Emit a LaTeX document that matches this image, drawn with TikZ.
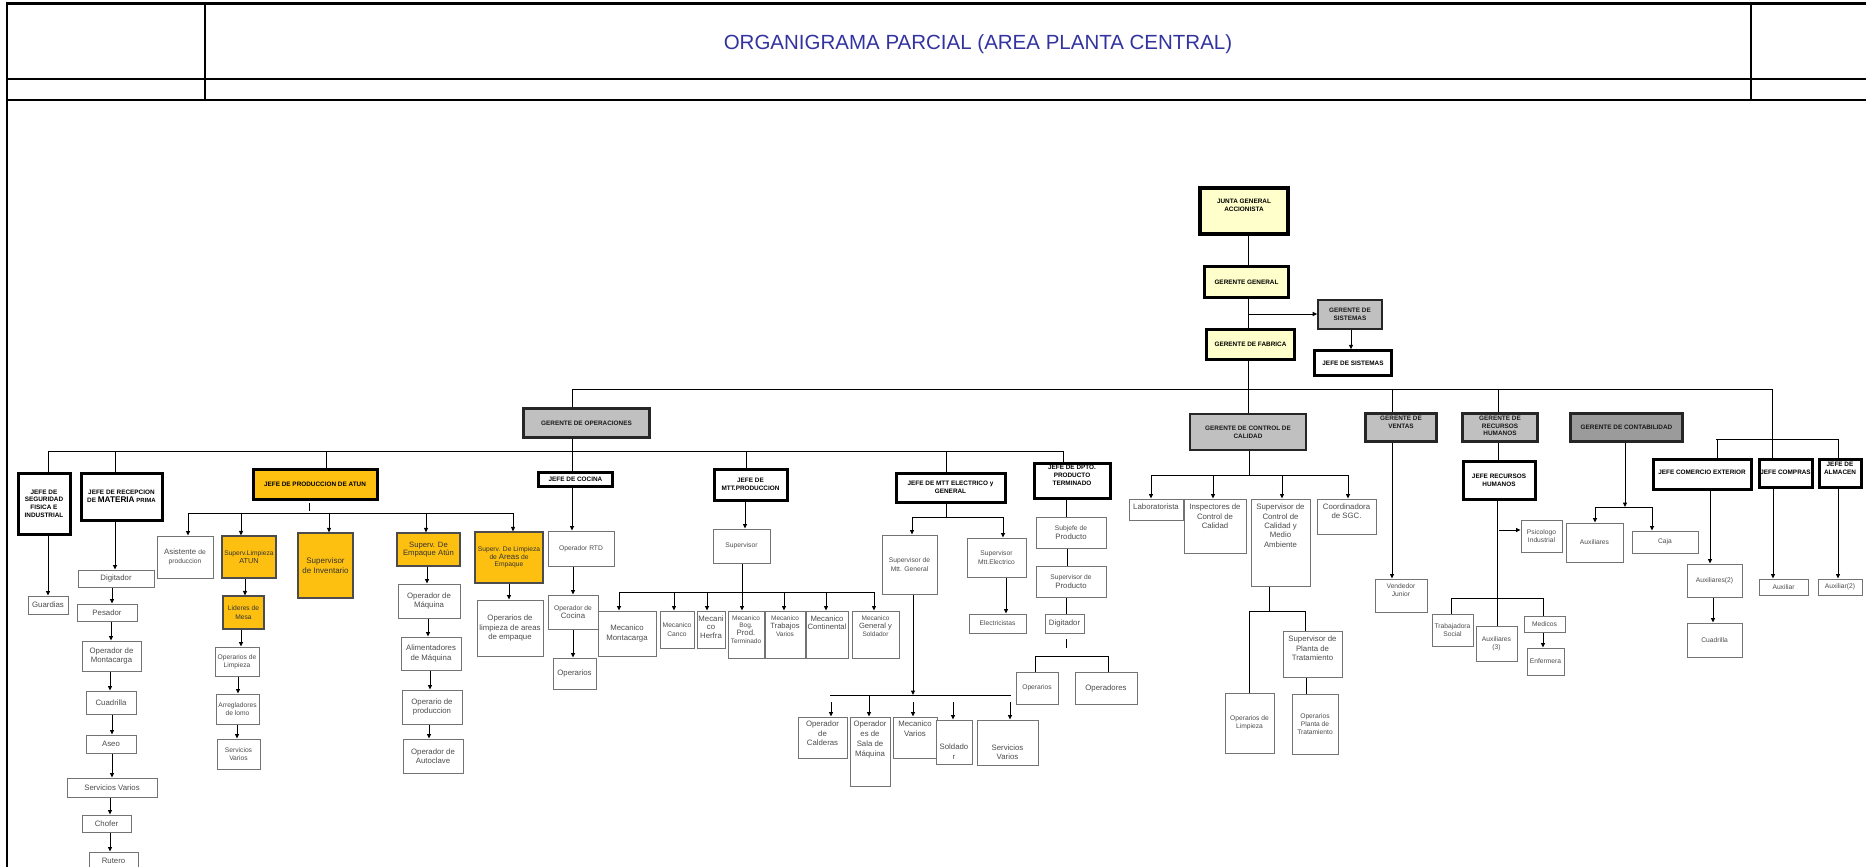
\documentclass[tikz,border=0pt]{standalone}
\usepackage{fontspec}
\setmainfont{Liberation Sans}
\usetikzlibrary{arrows.meta}
\definecolor{yelfill}{RGB}{255,255,204}
\definecolor{grayfill}{RGB}{192,192,192}
\definecolor{dgrayfill}{RGB}{155,155,155}
\definecolor{orfill}{RGB}{254,192,16}
\definecolor{titleblue}{RGB}{51,51,160}
\newcommand{\ftB}{\fontsize{6.4}{7.7}\selectfont\bfseries}
\newcommand{\ftL}{\fontsize{7.8}{9.4}\selectfont}
\newcommand{\ftS}{\fontsize{6.7}{8.2}\selectfont}
\newcommand{\tbox}[4]{\parbox[c][#2pt][t]{#1pt}{\centering\vspace*{\dimexpr#3pt+2pt\relax}#4\par}}
\newcommand{\vlink}[4]{\draw[#1] (#2,0 |- #3) -- (#2,0 |- #4);}
\begin{document}
\begin{tikzpicture}[x=1pt,y=-1pt,
 base/.style={rectangle, inner sep=0pt, align=center},
 thin/.style={base, draw=black!55, line width=1pt, fill=white, font=\ftL, text=black!70},
 thinS/.style={thin, font=\ftS},
 thick/.style={base, draw=black, line width=3pt, fill=white, font=\ftB, text=black},
 yel/.style={thick, fill=yelfill},
 grayb/.style={base, draw=black!85, line width=2.2pt, fill=grayfill, font=\ftB, text=black!90},
 orng/.style={base, draw=black!70, line width=1.2pt, fill=orfill, font=\ftL, text=black!80},
 wh/.style 2 args={minimum width=#1pt, minimum height=#2pt},
 ln/.style={line width=1pt},
 arr/.style={line width=1pt, -{Triangle[length=4.5pt,width=4pt]}},
 frame/.style={line width=2.5pt},
 framethin/.style={line width=1.5pt}]
\useasboundingbox (0,0) rectangle (1866,867);
% frame
\draw[frame] (7,3.5) -- (1866,3.5);
\draw[frame] (7,2.3) -- (7,870);
\draw[frame] (7,79) -- (1866,79);
\draw[frame] (7,100) -- (1866,100);
\draw[framethin] (205,3.5) -- (205,100);
\draw[framethin] (1751,3.5) -- (1751,100);
\node[font=\fontsize{20.5}{24}\selectfont, text=titleblue] (title) at (978,44) {ORGANIGRAMA PARCIAL (AREA PLANTA CENTRAL)};
% top
\node[yel, line width=4pt] (junta) at (1244,211) {\tbox{88}{46}{9.5}{JUNTA GENERAL\\ACCIONISTA}};
\node[yel, wh={83.5}{30.5}] (gg) at (1246.5,282) {GERENTE GENERAL};
\node[grayb, wh={63.4}{28.4}] (gs) at (1350,314.5) {GERENTE DE\\SISTEMAS};
\node[thick, wh={76.5}{24.5}] (js) at (1353,363) {JEFE DE SISTEMAS};
\node[yel, wh={87.5}{29.5}] (gf) at (1250.5,344.5) {GERENTE DE FABRICA};
% second level
\node[grayb, wh={126}{29}] (gop) at (586.5,423) {GERENTE DE OPERACIONES};
\node[grayb, wh={116.5}{36.5}] (gcc) at (1248,432) {GERENTE DE CONTROL DE\\CALIDAD};
\node[grayb] (gv) at (1401,427.5) {\tbox{71}{28}{1}{GERENTE DE\\VENTAS}};
\node[grayb] (grh) at (1500,427.5) {\tbox{75}{28}{0.5}{GERENTE DE\\RECURSOS\\HUMANOS}};
\node[grayb, fill=dgrayfill, wh={112}{28}] (gcont) at (1626.5,427.5) {GERENTE DE CONTABILIDAD};
% operaciones heads
\node[thick, wh={52}{61}] (jseg) at (44,503.5) {JEFE DE\\SEGURIDAD\\FISICA E\\INDUSTRIAL};
\node[thick, wh={81}{47}] (jrec) at (121.5,496.5) {JEFE DE RECEPCION\\DE {\fontsize{8.2}{9}\selectfont MATERIA} {\fontsize{6}{7}\selectfont PRIMA}};
\node[thick, fill=orfill, wh={124}{30}] (jatun) at (315,484) {JEFE DE PRODUCCION DE ATUN};
\node[thick, wh={73.5}{13.5}] (jcoc) at (575.5,479.5) {JEFE DE COCINA};
\node[thick, wh={73}{31}] (jmtt) at (750.5,484.5) {JEFE DE\\MTT.PRODUCCION};
\node[thick, wh={109}{29}] (jele) at (950.5,487.5) {JEFE DE MTT ELECTRICO y\\GENERAL};
\node[thick] (jdpto) at (1072,480.5) {\tbox{76}{35}{0.5}{JEFE DE DPTO.\\PRODUCTO\\TERMINADO}};
% seguridad / recepcion
\node[thin, wh={40}{18}] (guard) at (48,605) {Guardias};
\node[thin, wh={76}{17}] (dig1) at (116,578.5) {Digitador};
\node[thin, wh={60}{17}] (pes) at (107,612.5) {Pesador};
\node[thin, wh={59}{30}] (opmon) at (111.5,656) {Operador de\\Montacarga};
\node[thin, wh={50}{23}] (cuad1) at (111,702.5) {Cuadrilla};
\node[thin, wh={50}{18}] (aseo) at (111,744) {Aseo};
\node[thin, wh={90}{19}] (serv1) at (112,787.5) {Servicios Varios};
\node[thin, wh={49}{17}] (chof) at (106.5,823.5) {Chofer};
\node[thin, wh={49}{18}] (rut) at (113.5,861) {Rutero};
% atun
\node[thin, wh={56}{42}] (asis) at (185,557) {Asistente {\ftS de}\\{\ftS produccion}};
\node[orng, wh={54}{42}, font=\fontsize{7.3}{8}\selectfont] (svla) at (249,557) {{\ftS Superv.Limpieza}\\ATUN};
\node[orng, wh={41}{33}, font=\ftS] (lider) at (243.5,612.5) {Lideres de\\Mesa};
\node[thinS, wh={44}{29}] (oplim) at (237,661.5) {Operarios de\\Limpieza};
\node[thinS, wh={43}{30}] (arreg) at (237.5,709) {Arregladores\\de lomo};
\node[thinS, wh={43}{30}] (serv2) at (238.5,754) {Servicios\\Varios};
\node[orng, wh={55}{65}, font=\fontsize{8}{10}\selectfont] (sinv) at (325.5,565.5) {Supervisor\\de Inventario};
\node[orng, wh={63}{33}, font=\fontsize{7.7}{8.5}\selectfont] (sempq) at (428.5,549.5) {Superv. De\\Empaque Atún};
\node[thin, wh={62}{34}] (opmaq) at (429,601) {Operador de\\Máquina};
\node[thin, wh={60}{33}] (alim) at (431,653.5) {Alimentadores\\de Máquina};
\node[thin, wh={60}{34}] (oprod) at (432,707) {Operario de\\produccion};
\node[thin, wh={60}{34}] (opaut) at (433,756) {Operador de\\Autoclave};
\node[orng, wh={68}{51}, font=\fontsize{6.7}{7.6}\selectfont] (slae) at (509,557.5) {Superv. De Limpieza\\de {\fontsize{7.8}{7.6}\selectfont Areas} de\\Empaque};
\node[thin, wh={66}{56}] (oplae) at (510,628) {Operarios de\\limpieza de areas\\de empaque};
% cocina
\node[thinS, wh={66}{35}] (oprtd) at (581,548.5) {Operador RTD};
\node[thin, wh={50}{34}, font=\fontsize{7.8}{8.5}\selectfont] (opcoc) at (573,612) {{\ftS Operador de}\\Cocina};
\node[thin, wh={43}{31}] (operar1) at (574.5,673.5) {Operarios};
% mtt produccion
\node[thinS, wh={57}{34}] (sup1) at (741.5,546) {Supervisor};
\node[thin, wh={58}{45}] (mmon) at (627,633.5) {Mecanico\\Montacarga};
\node[thinS, wh={34}{37}] (mcan) at (677,629.5) {Mecanico\\Canco};
\node[thin, font=\fontsize{7.8}{8.5}\selectfont] (mher) at (711,629.5) {\tbox{28}{37}{2.5}{Mecani\\co\\Herfra}};
\node[thin, font=\fontsize{6.5}{7}\selectfont] (mbog) at (746,634.5) {\tbox{36}{47}{2.5}{Mecanico\\Bog.\\{\fontsize{7.8}{7}\selectfont Prod.}\\[1.5pt]Terminado}};
\node[thin, font=\fontsize{6.5}{8}\selectfont] (mtrab) at (785,634.5) {\tbox{40}{47}{3}{Mecanico\\{\fontsize{7.6}{8}\selectfont Trabajos}\\Varios}};
\node[thin, font=\fontsize{7.7}{8.3}\selectfont] (mcont) at (827,634.5) {\tbox{42}{47}{3}{Mecanico\\Continental}};
\node[thin, font=\fontsize{6.5}{8}\selectfont] (mgen) at (875.5,634.5) {\tbox{47}{47}{3}{Mecanico\\{\fontsize{7.6}{8}\selectfont General y}\\Soldador}};
% mtt electrico
\node[thinS, wh={55}{59}] (smg) at (909.5,564.5) {Supervisor de\\Mtt. General};
\node[thinS, wh={59}{39}] (sme) at (996.5,557.5) {Supervisor\\Mtt.Electrico};
\node[thinS, wh={57}{19}] (elec) at (997.5,623.5) {Electricistas};
\node[thin, font=\fontsize{7.8}{9.5}\selectfont] (ocal) at (822.5,737.5) {\tbox{49}{41}{2.2}{Operador\\de\\Calderas}};
\node[thin, font=\fontsize{7.8}{10}\selectfont] (osal) at (870,751.5) {\tbox{40}{69}{2.2}{Operador\\es de\\Sala de\\Máquina}};
\node[thin] (mvar) at (915,737.5) {\tbox{44}{41}{2.2}{Mecanico\\Varios}};
\node[thin] (sold) at (954,742) {\tbox{36}{44}{22}{Soldado\\r}};
\node[thin] (sv3) at (1007.5,742.5) {\tbox{61}{45}{22.5}{Servicios\\Varios}};
% producto terminado
\node[thin, wh={70}{31}, font=\fontsize{7.8}{9}\selectfont] (subj) at (1071,532.5) {{\ftS Subjefe de}\\Producto};
\node[thin, wh={70}{31}, font=\fontsize{7.8}{9}\selectfont] (supp) at (1071,581.5) {{\ftS Supervisor de}\\Producto};
\node[thin, wh={39}{19}] (dig2) at (1064.5,623.5) {Digitador};
\node[thinS, wh={42}{32}] (oper2) at (1037,688) {Operarios};
\node[thin, wh={62}{32}] (opdr) at (1106,688) {Operadores};
% calidad
\node[thin] (lab) at (1156,509.5) {\tbox{54}{21}{3}{Laboratorista}};
\node[thin] (insp) at (1215,526) {\tbox{62}{54}{3}{Inspectores de\\Control de\\Calidad}};
\node[thin] (scc) at (1280.5,542.5) {\tbox{59}{87}{3}{Supervisor de\\Control de\\Calidad y\\Medio\\Ambiente}};
\node[thin] (coord) at (1346.5,516.5) {\tbox{59}{35}{2.5}{Coordinadora\\de SGC.}};
\node[thin] (spt) at (1312.5,654) {\tbox{59}{46}{3}{Supervisor de\\Planta de\\Tratamiento}};
\node[thinS, wh={49}{60}] (olimp) at (1249.5,723) {Operarios de\\Limpieza};
\node[thinS, wh={46}{60}] (opt) at (1315,724) {Operarios\\Planta de\\Tratamiento};
% ventas
\node[thinS] (vj) at (1401,595.5) {\tbox{52}{33}{2.5}{Vendedor\\Junior}};
% rrhh
\node[thick, wh={72}{38}] (jrh) at (1499,480) {JEFE RECURSOS\\HUMANOS};
\node[thinS, wh={41}{32}] (psic) at (1541.5,536) {Psicologo\\Industrial};
\node[thinS, wh={41}{32}] (trab) at (1452.5,630) {Trabajadora\\Social};
\node[thinS, wh={41}{35}] (aux3) at (1496.5,643.5) {Auxiliares\\(3)};
\node[thinS, wh={41}{16}] (med) at (1544.5,624) {Medicos};
\node[thinS, wh={37}{27}] (enf) at (1545.5,661.5) {Enfermera};
% contabilidad
\node[thinS, wh={57}{39}] (auxc) at (1594.5,542.5) {Auxiliares};
\node[thinS, wh={66}{22}] (caja) at (1665,542) {Caja};
% right group
\node[thick] (jce) at (1702,474) {\tbox{98}{30}{9}{JEFE COMERCIO EXTERIOR}};
\node[thick] (jcomp) at (1785.5,473) {\tbox{53}{28}{9}{JEFE COMPRAS}};
\node[thick] (jalm) at (1840,473) {\tbox{42}{28}{1}{JEFE DE\\ALMACEN}};
\node[thinS, wh={55}{33}] (aux2) at (1714.5,580.5) {Auxiliares(2)};
\node[thinS, wh={55}{34}] (cuad2) at (1714.5,640) {Cuadrilla};
\node[thinS, wh={49}{16}] (auxl) at (1783.5,587) {Auxiliar};
\node[thinS, wh={44}{16}] (auxl2) at (1840,587) {Auxiliar(2)};

% ---------- connectors ----------
\coordinate (mainL) at (572,389); \coordinate (mainR) at (1772,389);
\draw[ln] (mainL) -- (mainR);
\vlink{ln}{1248}{junta.south}{gg.north}
\vlink{ln}{1248}{gg.south}{gf.north}
\vlink{ln}{1248}{gf.south}{mainL}
\coordinate (gsb) at (1248,314);
\draw[arr] (gsb) -- (gsb -| gs.west);
\vlink{arr}{1351}{gs.south}{js.north}
\vlink{ln}{572}{mainL}{gop.north}
\vlink{ln}{1248}{mainL}{gcc.north}
\vlink{ln}{1392}{mainL}{gv.north}
\vlink{ln}{1498}{mainL}{grh.north}
\coordinate (rL) at (1716,439); \coordinate (rR) at (1838,439);
\vlink{ln}{1772}{mainR}{rL}
\draw[ln] (rL) -- (rR);
\vlink{ln}{1717}{rL}{jce.north}
\vlink{ln}{1772}{rL}{jcomp.north}
\vlink{ln}{1838}{rL}{jalm.north}
\vlink{arr}{1710}{jce.south}{aux2.north}
\vlink{arr}{1713}{aux2.south}{cuad2.north}
\vlink{arr}{1773}{jcomp.south}{auxl.north}
\vlink{arr}{1838}{jalm.south}{auxl2.north}
% operaciones bus
\coordinate (oL) at (48,451); \coordinate (oR) at (1063,451);
\draw[ln] (oL) -- (oR);
\vlink{ln}{572}{gop.south}{jcoc.north}
\vlink{ln}{48}{oL}{jseg.north}
\vlink{ln}{115}{oL}{jrec.north}
\vlink{ln}{326}{oL}{jatun.north}
\vlink{ln}{746}{oL}{jmtt.north}
\vlink{ln}{946}{oL}{jele.north}
\vlink{ln}{1063}{oL}{jdpto.north}
% seguridad / recepcion
\vlink{arr}{48}{jseg.south}{guard.north}
\vlink{arr}{115}{jrec.south}{dig1.north}
\vlink{arr}{112}{dig1.south}{pes.north}
\vlink{arr}{111}{pes.south}{opmon.north}
\vlink{arr}{110}{opmon.south}{cuad1.north}
\vlink{arr}{112}{cuad1.south}{aseo.north}
\vlink{arr}{112}{aseo.south}{serv1.north}
\vlink{arr}{110}{serv1.south}{chof.north}
\vlink{arr}{110}{chof.south}{rut.north}
% atun
\draw[ln] (309,503) -- (309,511);
\coordinate (aL) at (188,513); \coordinate (aR) at (513,513);
\draw[ln] (aL) -- (aR);
\vlink{arr}{188}{aL}{asis.north}
\vlink{arr}{241}{aL}{svla.north}
\vlink{arr}{329}{aL}{sinv.north}
\vlink{arr}{426}{aL}{sempq.north}
\vlink{arr}{513}{aL}{slae.north}
\vlink{arr}{245}{svla.south}{lider.north}
\vlink{arr}{241}{lider.south}{oplim.north}
\vlink{arr}{238}{oplim.south}{arreg.north}
\vlink{arr}{237}{arreg.south}{serv2.north}
\vlink{arr}{427}{sempq.south}{opmaq.north}
\vlink{arr}{428}{opmaq.south}{alim.north}
\vlink{arr}{430}{alim.south}{oprod.north}
\vlink{arr}{429}{oprod.south}{opaut.north}
\vlink{arr}{509}{slae.south}{oplae.north}
% cocina
\vlink{arr}{572}{jcoc.south}{oprtd.north}
\vlink{arr}{573}{oprtd.south}{opcoc.north}
\vlink{arr}{573}{opcoc.south}{operar1.north}
% mtt produccion
\vlink{arr}{745}{jmtt.south}{sup1.north}
\coordinate (mL) at (619,592); \coordinate (mR) at (874,592);
\vlink{ln}{742}{sup1.south}{mL}
\draw[ln] (mL) -- (mR);
\vlink{arr}{619}{mL}{mmon.north}
\vlink{arr}{674}{mL}{mcan.north}
\vlink{arr}{707}{mL}{mher.north}
\vlink{arr}{742}{mL}{mbog.north}
\vlink{arr}{784}{mL}{mtrab.north}
\vlink{arr}{826}{mL}{mcont.north}
\vlink{arr}{874}{mL}{mgen.north}
% mtt electrico
\coordinate (eL) at (912,517); \coordinate (eR) at (1003,517);
\vlink{ln}{946}{jele.south}{eL}
\draw[ln] (eL) -- (eR);
\vlink{arr}{912}{eL}{smg.north}
\vlink{arr}{1003}{eL}{sme.north}
\vlink{arr}{1006}{sme.south}{elec.north}
\coordinate (e2L) at (830,695); \coordinate (e2R) at (1011,695);
\coordinate (e2g) at (0,702);
\vlink{arr}{913}{smg.south}{e2L}
\draw[ln] (e2L) -- (e2R);
\vlink{arr}{831}{e2g}{ocal.north}
\vlink{arr}{869}{e2L}{osal.north}
\vlink{arr}{913}{e2g}{mvar.north}
\vlink{arr}{953}{e2g}{sold.north}
\vlink{arr}{1010}{e2g}{sv3.north}
% producto terminado
\vlink{ln}{1066}{jdpto.south}{subj.north}
\vlink{ln}{1067}{subj.south}{supp.north}
\vlink{ln}{1066}{supp.south}{dig2.north}
\draw[ln] (1066,639) -- (1066,648);
\coordinate (pL) at (1035,656); \coordinate (pR) at (1108,656);
\draw[ln] (pL) -- (pR);
\vlink{ln}{1035}{pL}{oper2.north}
\vlink{ln}{1108}{pL}{opdr.north}
% calidad
\coordinate (cL) at (1151,475); \coordinate (cR) at (1348,475);
\vlink{ln}{1249}{gcc.south}{cL}
\draw[ln] (cL) -- (cR);
\vlink{arr}{1151}{cL}{lab.north}
\vlink{arr}{1213}{cL}{insp.north}
\vlink{arr}{1282}{cL}{scc.north}
\vlink{arr}{1348}{cL}{coord.north}
\coordinate (c2L) at (1249,611); \coordinate (c2R) at (1305,611);
\vlink{ln}{1269}{scc.south}{c2L}
\draw[ln] (c2L) -- (c2R);
\vlink{ln}{1249}{c2L}{olimp.north}
\vlink{ln}{1305}{c2L}{spt.north}
\vlink{ln}{1306}{spt.south}{opt.north}
% ventas
\vlink{arr}{1392}{gv.south}{vj.north}
% rrhh
\vlink{ln}{1498}{grh.south}{jrh.north}
\vlink{ln}{1497}{jrh.south}{aux3.north}
\coordinate (psb) at (1499,530);
\draw[arr] (psb) -- (psb -| psic.west);
\coordinate (hL) at (1451,598); \coordinate (hR) at (1543,598);
\draw[ln] (hL) -- (hR);
\vlink{ln}{1451}{hL}{trab.north}
\vlink{ln}{1543}{hL}{med.north}
\vlink{arr}{1543}{med.south}{enf.north}
% contabilidad
\coordinate (kL) at (1595,507); \coordinate (kR) at (1652,507);
\vlink{arr}{1625}{gcont.south}{kL}
\draw[ln] (kL) -- (kR);
\vlink{arr}{1595}{kL}{auxc.north}
\vlink{arr}{1652}{kL}{caja.north}
\end{tikzpicture}
\end{document}
